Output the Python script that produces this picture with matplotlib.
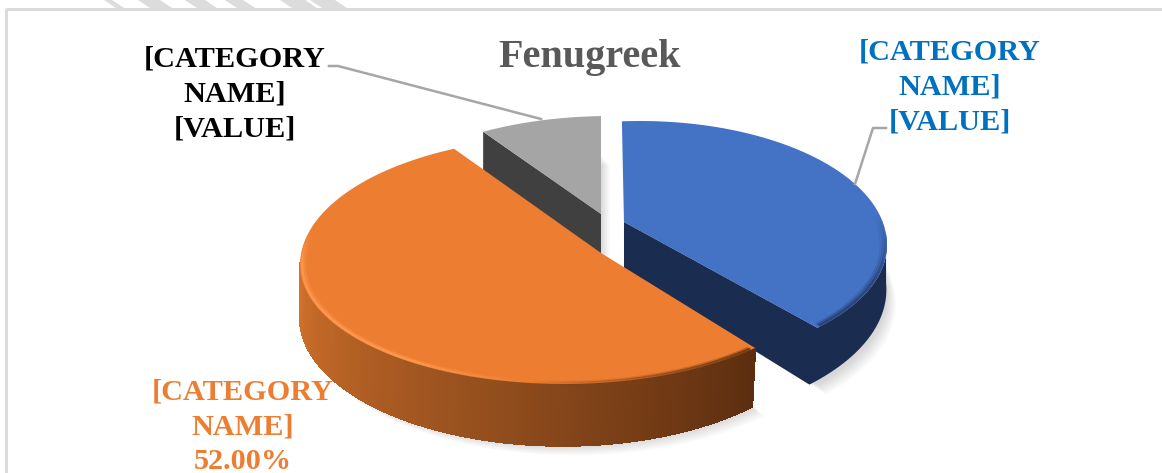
import numpy as np
import matplotlib
matplotlib.use('Agg')
import matplotlib.pyplot as plt
from matplotlib.patches import Polygon

title = 'Fenugreek'
categories = ['Blue', 'Orange', 'Gray']
shares = [39.0, 52.0, 9.0]
label_texts = ['[CATEGORY\nNAME]\n[VALUE]', '[CATEGORY\nNAME]\n52.00%', '[CATEGORY\nNAME]\n[VALUE]']

# pixel layout of each exploded slice: apex, ellipse, arc start, foreshortening of the sweep
blue = dict(apex=(624, 222), c=(640, 245), a=247, bb=124, bf=119, start=-4.2, scale=0.985, lean=-8)
orange = dict(apex=(601, 253), c=(565, 265), a=265, bb=128, bf=119, start=134.2, scale=1.074, lean=-3)
gray = dict(apex=(601, 214), c=(610, 240), a=260, bb=124, bf=124, start=-29.2, scale=0.84, lean=0)
for s, v in zip([blue, orange, gray], shares):
    s['end'] = s['start'] + v / sum(shares) * 360 * s['scale']


def arc(s, t, shrink=1.0):
    t = np.radians(np.asarray(t, dtype=float))
    x = s['c'][0] + s['a'] * shrink * np.sin(t)
    c = np.cos(t)
    y = s['c'][1] - np.where(c > 0, s['bb'], s['bf']) * shrink * c
    return np.column_stack([x, y])


def depth(y):
    return 40 + (np.asarray(y, dtype=float) - 130) * 0.085


def top_poly(s, n=200):
    pts = arc(s, np.linspace(s['start'], s['end'], n))
    return np.vstack([[s['apex']], pts])


def drop(pts):
    pts = np.array(pts, dtype=float)
    pts[:, 1] += depth(pts[:, 1])
    return pts


def mix(c1, c2, f):
    return tuple(np.array(c1) * (1 - f) + np.array(c2) * f)


fig = plt.figure(figsize=(11.62, 4.73), dpi=100)
ax = fig.add_axes([0, 0, 1, 1])
ax.set_xlim(0, 1162)
ax.set_ylim(473, 0)
ax.axis('off')

# watermark stripes above the frame
for x0, x1 in [(104, 112), (138, 160), (185, 205), (225, 243), (280, 305), (310, 335)]:
    ax.add_patch(Polygon([(x0, 0), (x1, 0), (x1 + 12, 8), (x0 + 12, 8)], fc='#dcdcdc', ec='none', zorder=1))
# frame
ax.plot([6, 6, 1162], [473, 9, 9], color='#d9d9d9', lw=2.0, zorder=2)

# soft shadows under the slabs
for s in [gray, blue, orange]:
    base = drop(top_poly(s))
    for g in range(10):
        p = base + [g * 1.0, g * 1.1]
        ax.add_patch(Polygon(p, fc='black', ec='none', alpha=0.016, zorder=3))

# gray slice
p0 = arc(gray, [gray['start']])[0]
ax.add_patch(Polygon([p0, gray['apex'], drop([gray['apex']])[0], drop([p0])[0]], fc='#404040', ec='none', zorder=4))
ax.add_patch(Polygon(top_poly(gray), fc='#a5a5a5', ec='none', zorder=5))

# blue slice
ts = np.linspace(85, blue['end'], 80)
edge = arc(blue, ts)
under = drop(edge)
under[:, 0] += blue['lean'] * (ts - 85) / (blue['end'] - 85)
wall = np.vstack([[blue['apex']], edge[::-1], under, drop([blue['apex']])])
ax.add_patch(Polygon(wall, fc='#1a2c50', ec='none', zorder=6))
ax.add_patch(Polygon(top_poly(blue), fc='#4472c4', ec='none', zorder=7))
ts = np.linspace(75, blue['end'] - 1, 60)
for shrink, strength in [(0.975, 0.15), (0.984, 0.3), (0.993, 0.55)]:
    pts = arc(blue, ts, shrink=shrink)
    for i in range(len(pts) - 1):
        f = min(1, (ts[i] - 75) / 30)
        ax.plot(pts[i:i + 2, 0], pts[i:i + 2, 1], color=(0.1, 0.17, 0.31), lw=2.0, alpha=strength * f,
                solid_capstyle='butt', zorder=8)

# orange slice, wall shaded along the arc
wall_left = (0.83, 0.45, 0.17)
wall_mid = (0.60, 0.32, 0.12)
wall_right = (0.36, 0.18, 0.06)
wall_end = 271
ts = np.linspace(orange['start'], wall_end, 160)
for i in range(len(ts) - 1):
    q = arc(orange, ts[i:i + 2])
    q2 = drop(q)
    q2[:, 0] += orange['lean'] * (wall_end - ts[i:i + 2]) / (wall_end - orange['start'])
    f = (ts[i] - orange['start']) / (wall_end - orange['start'])
    col = mix(wall_right, wall_mid, f * 2) if f < 0.5 else mix(wall_mid, wall_left, (f - 0.5) * 2)
    ax.add_patch(Polygon(np.vstack([q, q2[::-1]]), fc=col, ec=col, lw=1.0, antialiased=False, zorder=9))
ax.add_patch(Polygon(top_poly(orange), fc='#ed7d31', ec='none', zorder=10))
# bevel on the rim: dark near the tip, light on the left
ts = np.linspace(orange['start'] + 1, 285, 120)
for shrink, strength in [(0.982, 0.35), (0.992, 0.8)]:
    pts = arc(orange, ts, shrink=shrink)
    for i in range(len(pts) - 1):
        f = (ts[i] - orange['start']) / (285 - orange['start'])
        if f < 0.35:
            col, al = (0.36, 0.18, 0.06), strength * (1 - f / 0.35)
        else:
            col, al = (1.0, 0.62, 0.33), strength * min(1, (f - 0.35) / 0.2) * min(1, (1 - f) / 0.1)
        ax.plot(pts[i:i + 2, 0], pts[i:i + 2, 1], color=col, lw=2.0, alpha=al, solid_capstyle='butt', zorder=11)

# leader lines
ax.plot([329, 338, 541], [66, 66, 119], color='#a6a6a6', lw=1.8, zorder=12)
ax.plot([886, 873, 855], [128, 128, 184], color='#a6a6a6', lw=1.8, zorder=12)

font = dict(family='Liberation Serif', weight='bold', ha='center', va='center', linespacing=1.37, fontsize=21.8)
ax.text(590, 57, title, color='#595959', family='Liberation Serif', weight='bold', ha='center', va='center', fontsize=29, zorder=13)
ax.text(950, 87, label_texts[0], color='#0070c0', zorder=13, **font)
ax.text(243, 427, label_texts[1], color='#ed7d31', zorder=13, **font)
ax.text(235, 94, label_texts[2], color='black', zorder=13, **font)

fig.savefig('out.png', dpi=100)
